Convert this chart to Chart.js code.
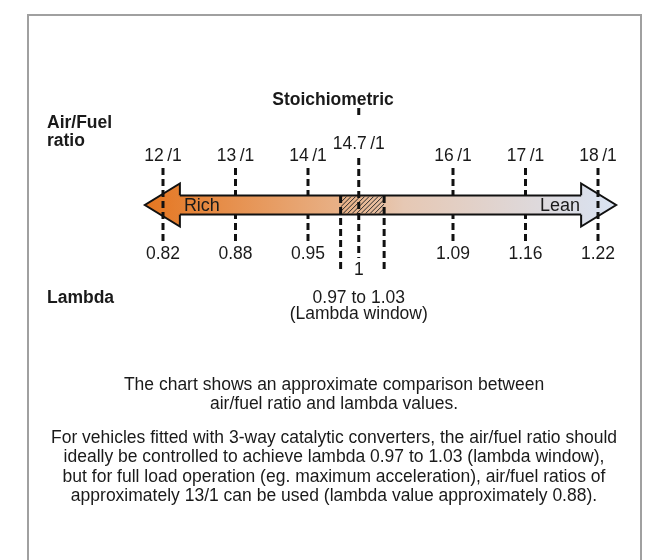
<!DOCTYPE html>
<html>
<head>
<meta charset="utf-8">
<script src="https://cdn.jsdelivr.net/npm/chart.js@4.4.1/dist/chart.umd.min.js"></script>
<style>
  html, body { margin: 0; padding: 0; background: #fff; }
  #frame { position: absolute; left: 27px; top: 14px; width: 611px; height: 560px;
           border: 2px solid #a0a0a0; border-bottom: none; }
  #myChart { position: absolute; left: 0; top: 0; }
</style>
</head>
<body>
<div id="frame"></div>
<canvas id="myChart" width="667" height="560"></canvas>
<script>
// air/fuel ratio ticks and matching lambda values
const afrTicks = [12, 13, 14, 16, 17, 18];
const afrLabels = ['12\u2009/1', '13\u2009/1', '14\u2009/1', '16\u2009/1', '17\u2009/1', '18\u2009/1'];
const lambdaLabels = ['0.82', '0.88', '0.95', '1.09', '1.16', '1.22'];
const stoichAfr = 14.7;
const stoichLabel = '14.7\u2009/1';
const stoichLambda = '1';
const windowAfr = [14.45, 15.05];   // lambda window edges 0.97 .. 1.03
const arrowEnds = [11.75, 18.25];

const captionTop = ['The chart shows an approximate comparison between',
    'air/fuel ratio and lambda values.'];
const captionBody = ['For vehicles fitted with 3-way catalytic converters, the air/fuel ratio should',
    'ideally be controlled to achieve lambda 0.97 to 1.03 (lambda window),',
    'but for full load operation (eg. maximum acceleration), air/fuel ratios of',
    'approximately 13/1 can be used (lambda value approximately 0.88).'];

const FONT = '"Liberation Sans", Arial, Helvetica, sans-serif';
const dashStyle = { borderColor: '#111', borderWidth: 3, borderDash: [7, 4], pointRadius: 0, showLine: true, fill: false };

const datasets = [];
afrTicks.forEach(v => datasets.push(Object.assign({ data: [{ x: v, y: 3.7 }, { x: v, y: -3.6 }], order: 3 }, dashStyle)));
windowAfr.forEach(v => datasets.push(Object.assign({ data: [{ x: v, y: 0.9 }, { x: v, y: -6.6 }], order: 1 }, dashStyle)));
// stoichiometric line, broken where its label sits
datasets.push(Object.assign({ data: [{ x: stoichAfr, y: 9.7 }, { x: stoichAfr, y: 8.9 }], order: 1 }, dashStyle));
datasets.push(Object.assign({ data: [{ x: stoichAfr, y: 4.7 }, { x: stoichAfr, y: -5.3 }], order: 1 }, dashStyle));

function arrowGradient(ctx, x0, x1) {
    const g = ctx.createLinearGradient(x0, 0, x1, 0);
    g.addColorStop(0, '#e57620');
    g.addColorStop(0.45, '#e8b690');
    g.addColorStop(0.55, '#e6c8b4');
    g.addColorStop(1, '#d9e3f3');
    return g;
}

const HEAD = 35;

const diagram = {
    id: 'diagram',
    beforeDatasetsDraw(chart) {
        // arrow heads (the end ticks are drawn over them)
        const { ctx, scales: { x, y } } = chart;
        const xl = x.getPixelForValue(arrowEnds[0]), xr = x.getPixelForValue(arrowEnds[1]);
        const cy = y.getPixelForValue(0);
        const st = y.getPixelForValue(0.95), ht = y.getPixelForValue(2.15);
        const sb = y.getPixelForValue(-0.95), hb = y.getPixelForValue(-2.15);
        ctx.save();
        ctx.fillStyle = arrowGradient(ctx, xl, xr);
        ctx.strokeStyle = '#111';
        ctx.lineWidth = 2;
        ctx.beginPath();
        ctx.moveTo(xl + HEAD, st); ctx.lineTo(xl + HEAD, ht); ctx.lineTo(xl, cy);
        ctx.lineTo(xl + HEAD, hb); ctx.lineTo(xl + HEAD, sb);
        ctx.fill(); ctx.stroke();
        ctx.beginPath();
        ctx.moveTo(xr - HEAD, st); ctx.lineTo(xr - HEAD, ht); ctx.lineTo(xr, cy);
        ctx.lineTo(xr - HEAD, hb); ctx.lineTo(xr - HEAD, sb);
        ctx.fill(); ctx.stroke();
        ctx.restore();
    },
    afterDatasetDraw(chart, args) {
        // shaft covers the inner ticks; index 0 is the last tick dataset drawn
        if (args.index !== 0) return;
        const { ctx, scales: { x, y } } = chart;
        const xl = x.getPixelForValue(arrowEnds[0]), xr = x.getPixelForValue(arrowEnds[1]);
        const top = y.getPixelForValue(0.95), bot = y.getPixelForValue(-0.95);
        ctx.save();
        ctx.fillStyle = arrowGradient(ctx, xl, xr);
        ctx.fillRect(xl + HEAD - 1, top, xr - xl - 2 * HEAD + 2, bot - top);
        ctx.strokeStyle = '#111';
        ctx.lineWidth = 2;
        ctx.beginPath();
        ctx.moveTo(xl + HEAD, top); ctx.lineTo(xr - HEAD, top);
        ctx.moveTo(xl + HEAD, bot); ctx.lineTo(xr - HEAD, bot);
        ctx.stroke();
        // lambda window hatch
        const wx0 = x.getPixelForValue(windowAfr[0]), wx1 = x.getPixelForValue(windowAfr[1]);
        ctx.beginPath();
        ctx.rect(wx0, top + 1, wx1 - wx0, bot - top - 2);
        ctx.clip();
        ctx.lineWidth = 1;
        ctx.strokeStyle = '#2a2a2a';
        ctx.beginPath();
        for (let k = wx0 - 30; k < wx1 + 30; k += 4.5) {
            ctx.moveTo(k, bot); ctx.lineTo(k + (bot - top), top);
        }
        ctx.stroke();
        ctx.restore();
        // Rich / Lean
        ctx.save();
        ctx.font = '18px ' + FONT;
        ctx.fillStyle = '#1a1a1a';
        ctx.textBaseline = 'middle';
        ctx.textAlign = 'left';
        ctx.fillText('Rich', xl + HEAD + 4, y.getPixelForValue(-0.1));
        ctx.textAlign = 'right';
        ctx.fillText('Lean', xr - HEAD - 1, y.getPixelForValue(-0.1));
        ctx.restore();
    },
    afterDraw(chart) {
        const { ctx, scales: { x, y } } = chart;
        ctx.save();
        ctx.fillStyle = '#1a1a1a';
        ctx.textBaseline = 'middle';
        ctx.textAlign = 'center';
        ctx.font = '17.5px ' + FONT;
        afrTicks.forEach((v, i) => {
            ctx.fillText(afrLabels[i], x.getPixelForValue(v), y.getPixelForValue(4.9));
            ctx.fillText(lambdaLabels[i], x.getPixelForValue(v), y.getPixelForValue(-4.9));
        });
        ctx.fillText(stoichLabel, x.getPixelForValue(stoichAfr), y.getPixelForValue(6.1));
        ctx.fillText(stoichLambda, x.getPixelForValue(stoichAfr), y.getPixelForValue(-6.5));
        ctx.fillText('0.97 to 1.03', x.getPixelForValue(stoichAfr), y.getPixelForValue(-9.3));
        ctx.fillText('(Lambda window)', x.getPixelForValue(stoichAfr), y.getPixelForValue(-10.9));

        ctx.font = 'bold 17.5px ' + FONT;
        ctx.fillText('Stoichiometric', 333, 100);
        ctx.textAlign = 'left';
        ctx.fillText('Air/Fuel', 47, 123);
        ctx.fillText('ratio', 47, 141);
        ctx.fillText('Lambda', 47, 298);

        ctx.textAlign = 'center';
        ctx.font = '17.5px ' + FONT;
        captionTop.forEach((t, i) => ctx.fillText(t, 334, 385 + i * 19.5));
        captionBody.forEach((t, i) => ctx.fillText(t, 334, 438 + i * 19.5));
        ctx.restore();
    }
};

const ctx = document.getElementById('myChart').getContext('2d');
const myChart = new Chart(ctx, {
    type: 'scatter',
    data: { datasets: datasets },
    options: {
        responsive: false,
        animation: false,
        layout: { padding: { left: 90.5, right: 32.75, top: 85, bottom: 235 } },
        scales: {
            x: { type: 'linear', min: 11, max: 18.5, display: false },
            y: { type: 'linear', min: -12, max: 12, display: false }
        },
        plugins: {
            legend: { display: false },
            tooltip: { enabled: false }
        }
    },
    plugins: [diagram]
});
</script>
</body>
</html>
